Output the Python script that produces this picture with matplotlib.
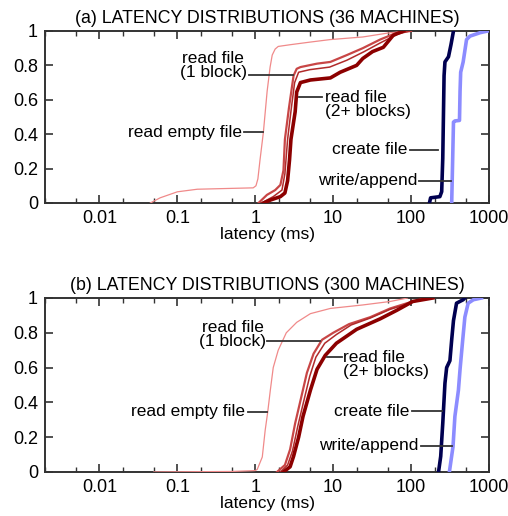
import matplotlib
matplotlib.use("Agg")
import matplotlib.pyplot as plt
from matplotlib.ticker import LogLocator, FixedLocator, FuncFormatter

plt.rcParams['font.family'] = ['Liberation Sans', 'DejaVu Sans']

# ---- data: latency (ms) vs cumulative fraction ----
# (a) 36 machines
a_empty_x = [0.045, 0.06, 0.1, 0.18, 0.5, 0.94, 1.02, 1.08, 1.15, 1.27, 1.42, 1.55, 1.65, 1.8, 1.97, 2.8, 5, 9.2, 24, 54, 100]
a_empty_y = [0, 0.03, 0.065, 0.08, 0.085, 0.088, 0.1, 0.14, 0.25, 0.41, 0.65, 0.79, 0.86, 0.895, 0.91, 0.92, 0.935, 0.95, 0.965, 0.99, 1.0]
a_one_x = [1.1, 1.41, 1.8, 2.1, 2.3, 2.4, 2.7, 3.1, 3.4, 3.8, 6.2, 9.2, 15, 24, 40, 66, 100]
a_one_y = [0, 0.047, 0.075, 0.105, 0.19, 0.37, 0.55, 0.74, 0.78, 0.79, 0.81, 0.82, 0.86, 0.90, 0.95, 0.99, 1.0]
a_mid_x = [1.2, 1.7, 2.2, 2.4, 2.6, 2.9, 3.2, 3.6, 5, 9, 15, 25, 40, 66, 95]
a_mid_y = [0, 0.037, 0.075, 0.17, 0.37, 0.55, 0.70, 0.76, 0.775, 0.79, 0.83, 0.88, 0.93, 0.98, 1.0]
a_multi_x = [1.28, 1.56, 2.1, 2.4, 2.6, 2.75, 2.87, 3.25, 3.4, 3.8, 5.1, 9.2, 12.3, 20, 24, 32, 44, 59, 80]
a_multi_y = [0, 0.017, 0.037, 0.058, 0.13, 0.25, 0.37, 0.53, 0.645, 0.70, 0.715, 0.727, 0.76, 0.80, 0.84, 0.88, 0.905, 0.975, 1.0]
a_create_x = [172, 178, 234, 247, 255, 265, 272, 302, 325, 350]
a_create_y = [0, 0.03, 0.037, 0.066, 0.26, 0.74, 0.82, 0.85, 0.92, 1.0]
a_write_x = [332, 350, 365, 418, 425, 433, 466, 515, 570, 770, 970]
a_write_y = [0, 0.47, 0.477, 0.48, 0.65, 0.76, 0.82, 0.95, 0.97, 0.99, 1.0]

# (b) 300 machines
b_empty_x = [0.05, 0.5, 1.0, 1.06, 1.23, 1.34, 1.44, 1.56, 1.7, 1.97, 2.5, 3.4, 5.1, 9.2, 24, 54, 90]
b_empty_y = [0, 0.003, 0.008, 0.015, 0.086, 0.24, 0.34, 0.47, 0.60, 0.70, 0.80, 0.86, 0.91, 0.94, 0.96, 0.98, 1.0]
b_one_x = [1.9, 2.4, 2.8, 3.25, 3.8, 4.6, 5.6, 7.2, 10, 16, 30, 54, 89, 130, 190]
b_one_y = [0, 0.04, 0.13, 0.28, 0.41, 0.57, 0.68, 0.76, 0.80, 0.85, 0.89, 0.94, 0.97, 0.99, 1.0]
b_mid_x = [2.1, 2.6, 3.0, 3.5, 4.1, 5.0, 6.0, 7.8, 11, 17, 30, 54, 89, 130, 190]
b_mid_y = [0, 0.04, 0.12, 0.26, 0.39, 0.55, 0.66, 0.74, 0.79, 0.845, 0.885, 0.935, 0.965, 0.99, 1.0]
b_multi_x = [2.3, 2.8, 3.1, 3.6, 4.1, 5.1, 6.2, 7.9, 11, 20, 40, 66, 105, 190]
b_multi_y = [0, 0.03, 0.09, 0.2, 0.32, 0.47, 0.59, 0.67, 0.74, 0.82, 0.88, 0.93, 0.98, 1.0]
b_create_x = [225, 240, 255, 272, 286, 315, 332, 350, 383, 466, 490]
b_create_y = [0, 0.09, 0.28, 0.51, 0.6, 0.64, 0.76, 0.87, 0.97, 0.99, 1.0]
b_write_x = [310, 345, 365, 405, 425, 460, 490, 540, 630, 800]
b_write_y = [0, 0.145, 0.32, 0.47, 0.59, 0.76, 0.89, 0.97, 0.99, 1.0]

titles = ["(a) LATENCY DISTRIBUTIONS (36 MACHINES)", "(b) LATENCY DISTRIBUTIONS (300 MACHINES)"]
x_ticks = [0.01, 0.1, 1, 10, 100, 1000]
y_ticks = [0, 0.2, 0.4, 0.6, 0.8, 1]

# styles: (color, linewidth)
styles = {
    'empty': ('#f08a8a', 0.9),
    'one': ('#c84646', 1.6),
    'mid': ('#b02a2a', 1.1),
    'multi': ('#8c0000', 2.6),
    'create': ('#000050', 2.6),
    'write': ('#8c8cff', 2.6),
}

# label placement: text, text x, text y, ha, leader x0, leader x1, leader y
labels_a = [
    ("read file\n(1 block)", 0.29, 0.80, 'center', 0.84, 3.07, 0.745),
    ("read file\n(2+ blocks)", 7.9, 0.57, 'left', 3.66, 7.2, 0.616),
    ("read empty file", 0.68, 0.41, 'right', 0.72, 1.27, 0.41),
    ("create file", 89, 0.31, 'right', 97, 222, 0.31),
    ("write/append", 119, 0.13, 'right', 126, 325, 0.13),
]
labels_b = [
    ("read file\n(1 block)", 0.51, 0.79, 'center', 1.43, 6.8, 0.75),
    ("read file\n(2+ blocks)", 13.4, 0.615, 'left', 8.4, 13.0, 0.66),
    ("read empty file", 0.74, 0.345, 'right', 0.81, 1.43, 0.345),
    ("create file", 94, 0.35, 'right', 103, 250, 0.35),
    ("write/append", 123, 0.15, 'right', 134, 336, 0.15),
]


def draw_panel(ax, curves, labels, title):
    for key, xs, ys in curves:
        c, lw = styles[key]
        ax.plot(xs, ys, color=c, lw=lw, solid_joinstyle='round', zorder=3)
    for text, tx, ty, ha, lx0, lx1, ly in labels:
        ax.text(tx, ty, text, ha=ha, va='center', fontsize=12.5, linespacing=0.92, zorder=4)
        ax.plot([lx0, lx1], [ly, ly], color='#333333', lw=1.3, zorder=4)
    ax.set_xscale('log')
    ax.set_xlim(0.002, 1000)
    ax.set_ylim(0, 1)
    ax.xaxis.set_major_locator(FixedLocator(x_ticks))
    ax.xaxis.set_minor_locator(LogLocator(base=10, subs=(2, 5)))
    ax.xaxis.set_major_formatter(FuncFormatter(lambda v, p: '%g' % v))
    ax.xaxis.set_minor_formatter(FuncFormatter(lambda v, p: ''))
    ax.set_yticks(y_ticks)
    ax.yaxis.set_major_formatter(FuncFormatter(lambda v, p: '%g' % v))
    ax.tick_params(which='both', direction='in', top=True, right=True, labelsize=13, color='#333333')
    ax.tick_params(which='major', length=6, width=1.2, pad=5)
    ax.tick_params(which='minor', length=3.5, width=1.0)
    for s in ax.spines.values():
        s.set_linewidth(1.4)
        s.set_color('#333333')
    ax.set_title(title, fontsize=12.8, pad=6)
    ax.set_xlabel('latency (ms)', fontsize=12.5, labelpad=0)


fig = plt.figure(figsize=(5.08, 5.16), dpi=100)
ax_a = fig.add_axes([0.0886, 0.6066, 0.874, 0.3334])
ax_b = fig.add_axes([0.0886, 0.0853, 0.874, 0.3372])

draw_panel(ax_a, [
    ('empty', a_empty_x, a_empty_y),
    ('one', a_one_x, a_one_y),
    ('mid', a_mid_x, a_mid_y),
    ('multi', a_multi_x, a_multi_y),
    ('create', a_create_x, a_create_y),
    ('write', a_write_x, a_write_y),
], labels_a, titles[0])

draw_panel(ax_b, [
    ('empty', b_empty_x, b_empty_y),
    ('one', b_one_x, b_one_y),
    ('mid', b_mid_x, b_mid_y),
    ('multi', b_multi_x, b_multi_y),
    ('create', b_create_x, b_create_y),
    ('write', b_write_x, b_write_y),
], labels_b, titles[1])

fig.savefig('out.png', dpi=100)
